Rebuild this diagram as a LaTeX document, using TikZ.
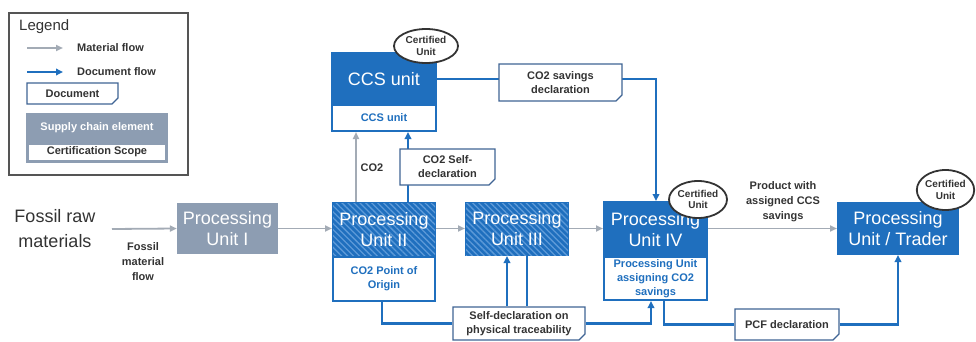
\documentclass[tikz,border=0pt]{standalone}
\usepackage{fontspec}
\setmainfont{Liberation Sans}
\usetikzlibrary{arrows.meta,shapes.geometric,shapes.misc,patterns.meta,backgrounds}
\definecolor{ccsblue}{HTML}{1F6FBE}
\definecolor{hatchc}{HTML}{5D9AD8}
\definecolor{unitgray}{HTML}{8D9DB2}
\definecolor{flowgray}{HTML}{A3ABB5}
\definecolor{docedge}{HTML}{3F6494}
\definecolor{txt}{HTML}{333333}
\definecolor{legedge}{HTML}{555555}
\begin{document}
\begin{tikzpicture}[x=1pt,y=-1pt,
  matflow/.style={draw=flowgray, line width=1.8pt, -{Triangle[length=7pt,width=6pt]}},
  docflow/.style={draw=ccsblue, line width=2.2pt, -{Triangle[length=7pt,width=6.5pt]}},
  docline/.style={draw=ccsblue, line width=2.2pt},
  small/.style={font=\fontsize{11}{14}\selectfont\bfseries},
  unitbox/.style={inner sep=0pt, align=center, text=white, font=\fontsize{18}{21}\selectfont},
  unittop/.style={unitbox, fill=ccsblue, draw=ccsblue, line width=2pt},
  hatched/.style={postaction={pattern={Lines[angle=-45,distance=4.2pt,line width=1.3pt]}, pattern color=hatchc}},
  unitbot/.style={fill=white, draw=ccsblue, line width=2pt, text=ccsblue, small, align=center, inner sep=0pt},
  docnode/.style={chamfered rectangle, chamfered rectangle corners=south east,
    chamfered rectangle xsep=3pt, chamfered rectangle ysep=3pt,
    draw=docedge, line width=1.3pt, fill=white, small, text=txt, align=center, inner sep=0pt},
  certified/.style={ellipse, draw=txt, line width=1.8pt, fill=white, inner sep=0pt, align=center,
    font=\fontsize{10}{11.5}\selectfont\bfseries, text=txt},
  plain/.style={small, text=txt, align=center}
]
\useasboundingbox (0,0) rectangle (976,342);

% ---------- Legend ----------
\node[draw=legedge, line width=1.5pt, minimum width=179pt, minimum height=162pt, inner sep=0pt] (legbox) at (98.5,94) {};
\node[anchor=west, font=\fontsize{15}{18}\selectfont, text=txt, inner sep=0pt] (legt) at (19,27) {Legend};
\coordinate (lm1) at (27,48);
\coordinate (lm2) at (63,48);
\coordinate (ld1) at (27,72);
\coordinate (ld2) at (63,72);
\node[anchor=west, small, text=txt, inner sep=0pt] (lmt) at (77,48) {Material flow};
\node[anchor=west, small, text=txt, inner sep=0pt] (ldt) at (77,72) {Document flow};
\node[docnode, minimum width=91pt, minimum height=21pt] (ldoc) at (72.5,93.5) {Document};
\node[fill=unitgray, draw=unitgray, line width=1.5pt, minimum width=140pt, minimum height=48pt, inner sep=0pt] (lsce) at (97,138) {};
\node[small, text=white, inner sep=0pt] (lscet) at (97,128) {Supply chain element};
\node[fill=white, small, text=txt, minimum width=136pt, minimum height=15pt, inner sep=0pt] (lcs) at (97,152) {Certification Scope};

% ---------- Main units ----------
\node[unitbox, text=txt, font=\fontsize{18}{25}\selectfont] (fossil) at (55,229) {Fossil raw\\materials};
\node[unitbox, fill=unitgray, minimum width=101pt, minimum height=51pt] (u1) at (227.5,228.5) {Processing\\Unit I};

\node[unittop, hatched, minimum width=102pt, minimum height=54pt] (u2t) at (384,230) {Processing\\Unit II};
\node[unitbot, minimum width=102pt, minimum height=44pt] (u2b) at (384,279) {CO2 Point of\\Origin};

\node[unittop, hatched, minimum width=102pt, minimum height=52pt] (u3) at (517,229) {Processing\\Unit III};

\node[unittop, minimum width=103pt, minimum height=55pt] (u4t) at (655.5,229.5) {Processing\\Unit IV};
\node[unitbot, minimum width=103pt, minimum height=43pt] (u4b) at (655.5,278.5) {Processing Unit\\assigning CO2\\savings};

\node[unittop, minimum width=120pt, minimum height=51pt] (tr) at (898,228.5) {Processing\\Unit / Trader};

\node[unittop, minimum width=104pt, minimum height=52pt] (ccst) at (384,79) {CCS unit};
\node[unitbot, minimum width=104pt, minimum height=26pt] (ccsb) at (384,118) {CCS unit};

% ---------- Certified ellipses ----------
\node[certified, minimum width=64pt, minimum height=34pt] (e1) at (426,46) {Certified\\Unit};
\node[certified, minimum width=58pt, minimum height=37pt] (e2) at (698,199.5) {Certified\\Unit};
\node[certified, minimum width=55pt, minimum height=40pt] (e3) at (945.5,190) {Certified\\Unit};

% ---------- Documents ----------
\node[docnode, minimum width=123pt, minimum height=37pt] (csd) at (560.5,82.5) {CO2 savings\\declaration};
\node[docnode, minimum width=95pt, minimum height=36pt] (sd1) at (447.5,167) {CO2 Self-\\declaration};
\node[docnode, minimum width=132pt, minimum height=33pt] (sd2) at (519,323.5) {Self-declaration on\\physical traceability};
\node[docnode, minimum width=104pt, minimum height=31pt] (pcf) at (787,324.5) {PCF declaration};

% ---------- Labels ----------
\node[plain, font=\fontsize{11}{15}\selectfont\bfseries] (fmf) at (143,262) {Fossil\\material\\flow};
\node[plain] (co2) at (372,168) {CO2};
\node[plain, font=\fontsize{11}{15}\selectfont\bfseries] (prod) at (783,202) {Product with\\assigned CCS\\savings};

% ---------- Connectors ----------
\begin{scope}[on background layer]
\draw[matflow] (lm1) -- (lm2);
\draw[docflow] (ld1) -- (ld2);

\draw[matflow] (fossil.east -| 112,0) -- (u1.west);
\draw[matflow] (u1.east) -- (u2t.west |- u1.east);
\draw[matflow] (u2t.east |- u1.east) -- (u3.west |- u1.east);
\draw[matflow] (u3.east |- u1.east) -- (u4t.west |- u1.east);
\draw[matflow] (u4t.east |- u1.east) -- (tr.west |- u1.east);

\draw[matflow] ([xshift=-28pt]u2t.north) -- ([xshift=-28pt]u2t.north |- ccsb.south);
\draw[docflow] ([xshift=24pt]u2t.north) -- ([xshift=24pt]u2t.north |- ccsb.south);

\draw[docflow] (ccst.east) -| ([xshift=0.5pt]u4t.north);

\draw[docline] ([xshift=-2pt]u2b.south) |- (sd2.west);
\draw[docflow] (sd2.east) -| ([xshift=-4.5pt]u4b.south);
\draw[docflow] ([xshift=-12pt]sd2.north) -- ([xshift=-12pt]sd2.north |- u3.south);
\draw[docline] ([xshift=10pt]u3.south) -- ([xshift=10pt]u3.south |- sd2.north);

\draw[docline] ([xshift=8.5pt]u4b.south) |- (pcf.west);
\draw[docflow] (pcf.east) -| (tr.south);
\end{scope}
\end{tikzpicture}
\end{document}
